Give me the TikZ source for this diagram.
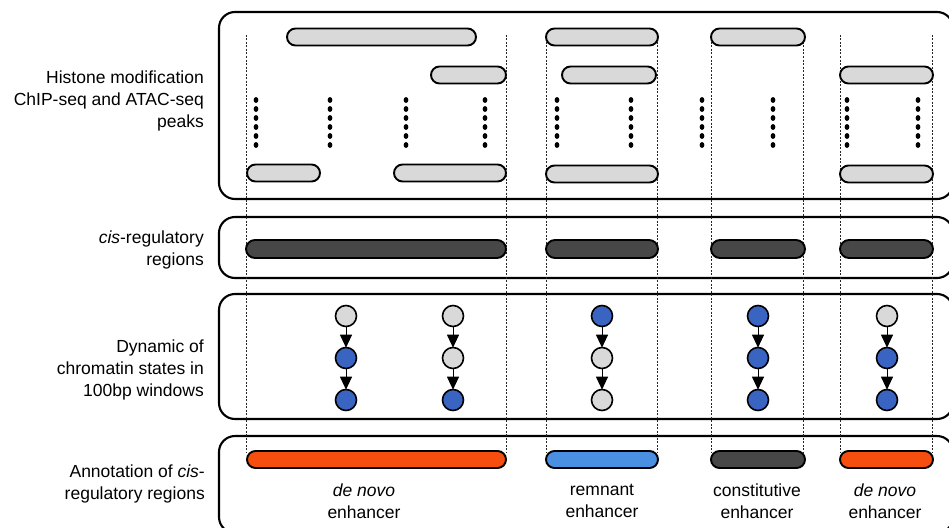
\documentclass[tikz,border=0pt]{standalone}
\usepackage{fontspec}
\setmainfont{Liberation Sans}
\usetikzlibrary{shapes.misc,arrows.meta}
\definecolor{lgray}{HTML}{D9D9D9}
\definecolor{dgray}{HTML}{474747}
\definecolor{cblue}{HTML}{3A64C2}
\definecolor{bblue}{HTML}{4A90E2}
\definecolor{orng}{HTML}{F54E0E}
\begin{document}
\begin{tikzpicture}[x=1pt,y=-1pt,
  panel/.style={draw, line width=2.1pt, rounded corners=16pt},
  peak/.style={rounded rectangle, draw, line width=1.9pt, fill=lgray, minimum height=17pt, inner sep=0pt},
  region/.style={peak, fill=dgray, minimum height=18pt},
  guide/.style={line width=0.8pt, dash pattern=on 2pt off 1.5pt, black!85},
  state/.style={circle, draw, line width=1.6pt, minimum size=21pt, inner sep=0pt},
  off/.style={state, fill=lgray},
  on/.style={state, fill=cblue},
  trans/.style={line width=1pt, -{Triangle[width=12pt,length=13pt]}, shorten >=-1pt},
  lbl/.style={font=\fontsize{17.5}{22}\selectfont, align=right, anchor=east, inner sep=0pt},
  ann/.style={font=\fontsize{17.5}{22}\selectfont, align=center, inner sep=0pt}]
\useasboundingbox (0,0) rectangle (949,527);
% panels
\draw[panel] (219,12) rectangle (953,199);
\draw[panel] (219,217) rectangle (953,278);
\draw[panel] (219,294) rectangle (953,419);
\draw[panel] (219,436) rectangle (953,533);
% guides
\foreach \x in {246,506,546,657,711,803,840,932}
  \draw[guide] (\x,35) -- (\x,452);
% peaks
\node[peak, minimum width=189pt] (pa) at (381.5,37) {};
\node[peak, minimum width=75pt] (pb) at (468.5,75) {};
\node[peak, minimum width=73pt] (pc) at (283.5,173) {};
\node[peak, minimum width=112pt] (pd) at (450,173) {};
\node[peak, minimum width=112pt] (pe) at (602,37) {};
\node[peak, minimum width=94pt] (pf) at (609,75) {};
\node[peak, minimum width=112pt] (pg) at (602,174) {};
\node[peak, minimum width=94pt] (ph) at (758,37) {};
\node[peak, minimum width=93pt] (pi) at (886.5,75) {};
\node[peak, minimum width=93pt] (pj) at (886.5,174) {};
% dotted signals
\foreach \x in {256,330,406,485,557,631,702,773,847,918}
  \foreach \k in {0,...,5}
    \fill (\x,100+9*\k) ellipse (2.4pt and 2.9pt);
% cis-regulatory regions
\node[region, minimum width=260pt] (r1) at (376,249) {};
\node[region, minimum width=112pt] (r2) at (602,249) {};
\node[region, minimum width=94pt] (r3) at (758,249) {};
\node[region, minimum width=93pt] (r4) at (886.5,249) {};
% chromatin states
\node[off] (a1) at (346,316) {};
\node[on]  (a2) at (346,358) {};
\node[on]  (a3) at (346,400) {};
\node[off] (b1) at (453,316) {};
\node[off] (b2) at (453,358) {};
\node[on]  (b3) at (453,400) {};
\node[on]  (c1) at (602,316) {};
\node[off] (c2) at (602,358) {};
\node[off] (c3) at (602,400) {};
\node[on]  (d1) at (758,316) {};
\node[on]  (d2) at (758,358) {};
\node[on]  (d3) at (758,400) {};
\node[off] (e1) at (887,316) {};
\node[on]  (e2) at (887,358) {};
\node[on]  (e3) at (887,400) {};
\foreach \c in {a,b,c,d,e}{
  \draw[trans] (\c1) -- (\c2);
  \draw[trans] (\c2) -- (\c3);
}
% annotation bars
\node[peak, fill=orng, minimum width=259pt] (n1) at (376.5,459.5) {};
\node[peak, fill=bblue, minimum width=112pt] (n2) at (602,459.5) {};
\node[peak, fill=dgray, minimum width=94pt] (n3) at (758,459.5) {};
\node[peak, fill=orng, minimum width=93pt] (n4) at (886.5,459.5) {};
\node[ann] (t1) at (364,501) {\textit{de novo}\\enhancer};
\node[ann] (t2) at (602,501) {remnant\\enhancer};
\node[ann] (t3) at (757,501) {constitutive\\enhancer};
\node[ann] (t4) at (885,501) {\textit{de novo}\\enhancer};
% left labels
\node[lbl] (l1) at (204,101) {Histone modification\\ChIP-seq and ATAC-seq\\peaks};
\node[lbl] (l2) at (204,249.5) {\textit{cis}-regulatory\\regions};
\node[lbl] (l3) at (204,369.5) {Dynamic of\\chromatin states in\\100bp windows};
\node[lbl] (l4) at (205,483.5) {Annotation of \textit{cis}-\\regulatory regions};
\end{tikzpicture}
\end{document}
